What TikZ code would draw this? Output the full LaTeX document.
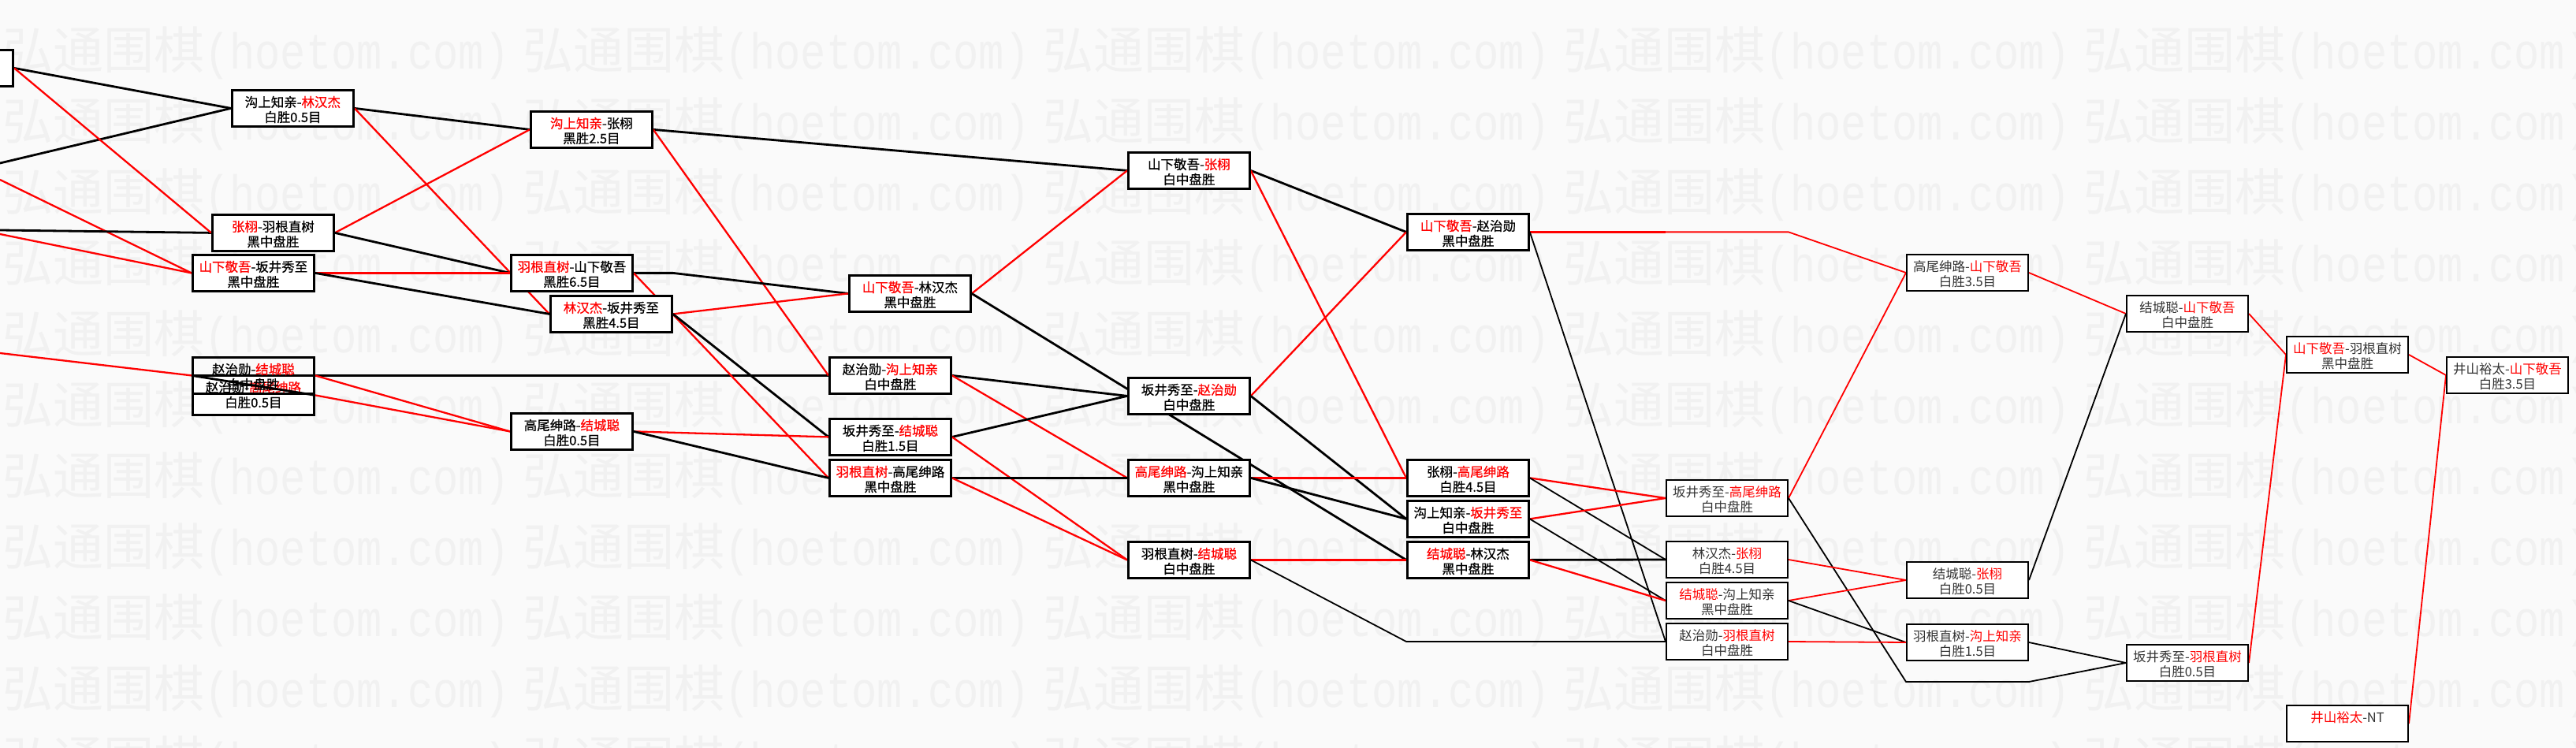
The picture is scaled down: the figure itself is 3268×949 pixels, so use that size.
\documentclass[tikz,border=0pt]{standalone}
\usepackage{fontspec}
\setmainfont{Noto Sans CJK SC}
\newfontfamily\cjk{Noto Sans CJK SC}
\newfontfamily\cjkb[FakeBold=0.7]{Noto Sans CJK SC}
\newfontfamily\wmmono[FakeStretch=0.84]{Liberation Mono}
\definecolor{bgc}{HTML}{FAFAFA}
\definecolor{wmc}{HTML}{F1F1F1}
\definecolor{rd}{HTML}{FF0000}
\definecolor{txg}{HTML}{333333}
\pgfdeclarelayer{back}
\pgfdeclarelayer{lines}
\pgfsetlayers{back,lines,main}
\newcommand\R[1]{\textcolor{rd}{#1}}
% #1 name, #2 thick/thin, #3 x, #4 y, #5 height, #6 line1, #7 line2
\newcommand\game[7]{%
  \node[#2box, minimum height=#5pt, anchor=north west] (#1) at (#3,#4) {};
  \node[#2txt] (#1-a) at ([yshift=-16.5pt]#1.north) {#6};
  \node[#2txt] (#1-b) at ([yshift=-35.5pt]#1.north) {#7};
}
\begin{document}
\begin{tikzpicture}[x=1pt,y=-1pt,
  thickbox/.style={draw=black, line width=2.8pt, fill=white, inner sep=0pt, minimum width=154pt},
  thinbox/.style={draw=black, line width=2pt, fill=white, inner sep=0pt, minimum width=154pt},
  thicktxt/.style={inner sep=0pt, text=black, font=\cjkb\fontsize{16.5}{19}\selectfont},
  thintxt/.style={inner sep=0pt, text=txg, font=\cjk\fontsize{16.5}{19}\selectfont},
  bk/.style={draw=black, line width=2.8pt, line join=round},
  rl/.style={draw=rd, line width=2.3pt, line join=round},
  bks/.style={draw=black, line width=1.8pt, line join=round},
  rls/.style={draw=rd, line width=1.8pt, line join=round},
  wm/.style={anchor=west, inner sep=0pt, text=wmc, font=\cjk\fontsize{64}{64}\selectfont}
]
\useasboundingbox (0,0) rectangle (3268,949);

\begin{pgfonlayer}{back}
\fill[bgc] (0,0) rectangle (3268,949);
\foreach \r in {0,...,10} {
  \foreach \c in {0,...,4} {
    \node[wm] (wm-\r-\c) at ({3+660*\c},{67+90*\r}) {弘通围棋{\wmmono(hoetom.com)}};
  }
}
\end{pgfonlayer}

% partial box at the left edge
\node[thickbox, minimum width=160pt, minimum height=46pt, anchor=north east] (G0) at (18,62) {};

\game{G1}{thick}{293}{113}{46}{沟上知亲-\R{林汉杰}}{白胜0.5目}
\game{G2}{thick}{268}{271}{46}{\R{张栩}-羽根直树}{黑中盘胜}
\game{G3}{thick}{243}{322}{46}{\R{山下敬吾}-坂井秀至}{黑中盘胜}
\game{G5}{thick}{243}{475}{50}{赵治勋-\R{高尾绅路}}{白胜0.5目}
\node[thickbox, fill=none, minimum height=46pt, anchor=north west] (G4) at (243,452) {};
\node[thicktxt] (G4-a) at ([yshift=-16.5pt]G4.north) {赵治勋-\R{结城聪}};
\node[thicktxt] (G4-b) at ([yshift=-35.5pt]G4.north) {白中盘胜};

\game{G6}{thick}{672}{140}{46}{\R{沟上知亲}-张栩}{黑胜2.5目}
\game{G7}{thick}{647}{322}{46}{\R{羽根直树}-山下敬吾}{黑胜6.5目}
\game{G8}{thick}{697}{374}{46}{\R{林汉杰}-坂井秀至}{黑胜4.5目}
\game{G9}{thick}{647}{523}{46}{高尾绅路-\R{结城聪}}{白胜0.5目}

\game{G10}{thick}{1076}{348}{46}{\R{山下敬吾}-林汉杰}{黑中盘胜}
\game{G11}{thick}{1051}{452}{46}{赵治勋-\R{沟上知亲}}{白中盘胜}
\game{G12}{thick}{1051}{530}{46}{坂井秀至-\R{结城聪}}{白胜1.5目}
\game{G13}{thick}{1051}{582}{46}{\R{羽根直树}-高尾绅路}{黑中盘胜}

\game{G14}{thick}{1430}{192}{46}{山下敬吾-\R{张栩}}{白中盘胜}
\game{G15}{thick}{1430}{478}{46}{坂井秀至-\R{赵治勋}}{白中盘胜}
\game{G16}{thick}{1430}{582}{46}{\R{高尾绅路}-沟上知亲}{黑中盘胜}
\game{G17}{thick}{1430}{686}{46}{羽根直树-\R{结城聪}}{白中盘胜}

\game{G18}{thick}{1784}{270}{46}{\R{山下敬吾}-赵治勋}{黑中盘胜}
\game{G19}{thick}{1784}{582}{46}{张栩-\R{高尾绅路}}{白胜4.5目}
\game{G20}{thick}{1784}{634}{46}{沟上知亲-\R{坂井秀至}}{白中盘胜}
\game{G21}{thick}{1784}{686}{46}{\R{结城聪}-林汉杰}{黑中盘胜}

\game{G22}{thin}{2113}{608}{46}{坂井秀至-\R{高尾绅路}}{白中盘胜}
\game{G23}{thin}{2113}{686}{46}{林汉杰-\R{张栩}}{白胜4.5目}
\game{G24}{thin}{2113}{738}{46}{\R{结城聪}-沟上知亲}{黑中盘胜}
\game{G25}{thin}{2113}{790}{46}{赵治勋-\R{羽根直树}}{白中盘胜}

\game{G26}{thin}{2418}{322}{46}{高尾绅路-\R{山下敬吾}}{白胜3.5目}
\game{G27}{thin}{2418}{712}{46}{结城聪-\R{张栩}}{白胜0.5目}
\game{G28}{thin}{2418}{791}{46}{羽根直树-\R{沟上知亲}}{白胜1.5目}

\game{G29}{thin}{2697}{374}{46}{结城聪-\R{山下敬吾}}{白中盘胜}
\game{G30}{thin}{2697}{817}{46}{坂井秀至-\R{羽根直树}}{白胜0.5目}

\game{G31}{thin}{2900}{426}{46}{\R{山下敬吾}-羽根直树}{黑中盘胜}
\game{G32}{thin}{2900}{894}{46}{\R{井山裕太}-NT}{}

\game{G33}{thin}{3103}{452}{46}{井山裕太-\R{山下敬吾}}{白胜3.5目}

% free ends and bends
\coordinate (L1) at (0,207);
\coordinate (L2) at (0,228);
\coordinate (L3) at (0,292);
\coordinate (L4) at (0,297);
\coordinate (L5) at (0,448);
\coordinate (e7) at (G8.east |- G7.east);
\coordinate (e17) at (G21.west |- G25.west);
\coordinate (e18a) at (G25.west |- G18.east);
\coordinate (e18b) at (G25.east |- G18.east);
\coordinate (e22a) at (G28.west |- G30.south);
\coordinate (e22b) at (G28.east |- G30.south);

\begin{pgfonlayer}{lines}
\draw[bk] (L1) -- (G1.west);
\draw[rl] (L2) -- (G3.west);
\draw[bk] (L3) -- (G2.west);
\draw[rl] (L4) -- (G3.west);
\draw[rl] (L5) -- (G4.west);
\draw[bk] (G0.east) -- (G1.west);
\draw[rl] (G0.east) -- (G2.west);

\draw[bk] (G1.east) -- (G6.west);
\draw[rl] (G1.east) -- (G8.west);
\draw[rl] (G2.east) -- (G6.west);
\draw[bk] (G2.east) -- (G7.west);
\draw[rl] (G3.east) -- (G7.west);
\draw[bk] (G3.east) -- (G8.west);
\draw[bk] (G4.east) -- (G11.west);
\draw[rl] (G4.east) -- (G9.west);
\draw[rl] (G5.east) -- (G9.west);

\draw[bk] (G6.east) -- (G14.west);
\draw[rl] (G6.east) -- (G11.west);
\draw[bk] (G7.east) -- (e7) -- (G10.west);
\draw[rl] (G7.east) -- (G13.west);
\draw[rl] (G8.east) -- (G10.west);
\draw[bk] (G8.east) -- (G12.west);
\draw[rl] (G9.east) -- (G12.west);
\draw[bk] (G9.east) -- (G13.west);

\draw[rl] (G10.east) -- (G14.west);
\draw[bk] (G10.east) -- (G21.west);
\draw[bk] (G11.east) -- (G15.west);
\draw[rl] (G11.east) -- (G16.west);
\draw[bk] (G12.east) -- (G15.west);
\draw[rl] (G12.east) -- (G17.west);
\draw[bk] (G13.east) -- (G16.west);
\draw[rl] (G13.east) -- (G17.west);

\draw[bk] (G14.east) -- (G18.west);
\draw[rl] (G14.east) -- (G19.west);
\draw[rl] (G15.east) -- (G18.west);
\draw[bk] (G15.east) -- (G20.west);
\draw[rl] (G16.east) -- (G19.west);
\draw[bk] (G16.east) -- (G20.west);
\draw[rl] (G17.east) -- (G21.west);
\draw[bks] (G17.east) -- (e17) -- (G25.west);

\draw[rl] (G18.east) -- (e18a);
\draw[rls] (e18a) -- (e18b) -- (G26.west);
\draw[bks] (G18.east) -- (G25.west);
\draw[rl] (G19.east) -- (G22.west);
\draw[bks] (G19.east) -- (G23.west);
\draw[rl] (G20.east) -- (G22.west);
\draw[bks] (G20.east) -- (G24.west);
\draw[bk] (G21.east) -- (G23.west);
\draw[rl] (G21.east) -- (G24.west);

\draw[rls] (G22.east) -- (G26.west);
\draw[bks] (G22.east) -- (e22a) -- (e22b) -- (G30.west);
\draw[rls] (G23.east) -- (G27.west);
\draw[rls] (G24.east) -- (G27.west);
\draw[bks] (G24.east) -- (G28.west);
\draw[rls] (G25.east) -- (G28.west);

\draw[rls] (G26.east) -- (G29.west);
\draw[bks] (G27.east) -- (G29.west);
\draw[bks] (G28.east) -- (G30.west);
\draw[rls] (G29.east) -- (G31.west);
\draw[rls] (G30.east) -- (G31.west);
\draw[rls] (G31.east) -- (G33.west);
\draw[rls] (G32.east) -- (G33.west);
\end{pgfonlayer}

% line crossing the overlapping pair of boxes
\draw[bk] (G4.west) -- (G5.east);
\end{tikzpicture}
\end{document}
